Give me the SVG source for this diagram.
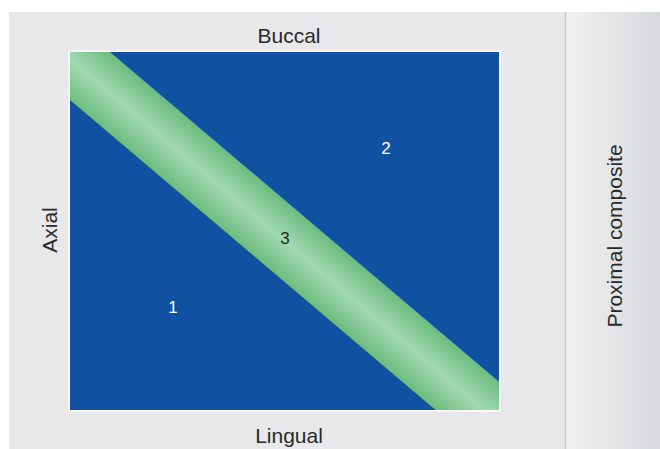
<svg xmlns="http://www.w3.org/2000/svg" width="660" height="449" viewBox="0 0 660 449">
  <defs>
    <linearGradient id="sideGrad" x1="0" y1="0" x2="1" y2="0">
      <stop offset="0" stop-color="#f1f1f2"/>
      <stop offset="1" stop-color="#d6d9dc"/>
    </linearGradient>
    <!-- shading across the width of the diagonal band -->
    <linearGradient id="bandGrad" gradientUnits="userSpaceOnUse" x1="285" y1="282.3" x2="325.4" y2="234.6">
      <stop offset="0" stop-color="#6cbc7f"/>
      <stop offset="0.5" stop-color="#a2d9b0"/>
      <stop offset="1" stop-color="#6cbc7f"/>
    </linearGradient>
    <clipPath id="fieldClip">
      <rect x="70" y="52" width="429" height="358"/>
    </clipPath>
    <style>
      .lbl { font-family: "Liberation Sans", Arial, sans-serif; font-size: 21px; fill: #2a2a2a; text-anchor: middle; }
      .num { font-family: "Liberation Sans", Arial, sans-serif; font-size: 17px; text-anchor: middle; }
    </style>
  </defs>

  <rect x="0" y="0" width="660" height="449" fill="#ffffff"/>

  <!-- main panel -->
  <g id="panel">
    <rect x="9" y="12" width="557" height="437" fill="#e8e8ea"/>
  </g>

  <!-- side panel -->
  <g id="side">
    <rect x="566" y="12" width="94" height="437" fill="url(#sideGrad)"/>
    <line x1="565.5" y1="12" x2="565.5" y2="449" stroke="#c9c9cc" stroke-width="1.5"/>
    <text class="lbl" transform="translate(622,236) rotate(-90)">Proximal composite</text>
  </g>

  <!-- interface field -->
  <g id="field">
    <rect x="68.5" y="50.5" width="432" height="361" fill="#ffffff"/>
    <rect x="70" y="52" width="429" height="358" fill="#1151a2"/>
    <g clip-path="url(#fieldClip)">
      <polygon points="30,-15.8 540,416.6 540,498.6 30,66" fill="url(#bandGrad)"/>
    </g>
  </g>

  <g id="zone1"><text class="num" x="173" y="313" fill="#ffffff">1</text></g>
  <g id="zone2"><text class="num" x="386" y="154" fill="#ffffff">2</text></g>
  <g id="zone3"><text class="num" x="285" y="244" fill="#1e2a22">3</text></g>

  <g id="labels">
    <text class="lbl" x="289" y="43">Buccal</text>
    <text class="lbl" x="289" y="443">Lingual</text>
    <text class="lbl" transform="translate(57,230) rotate(-90)">Axial</text>
  </g>

  <g id="connectors"></g>
</svg>
